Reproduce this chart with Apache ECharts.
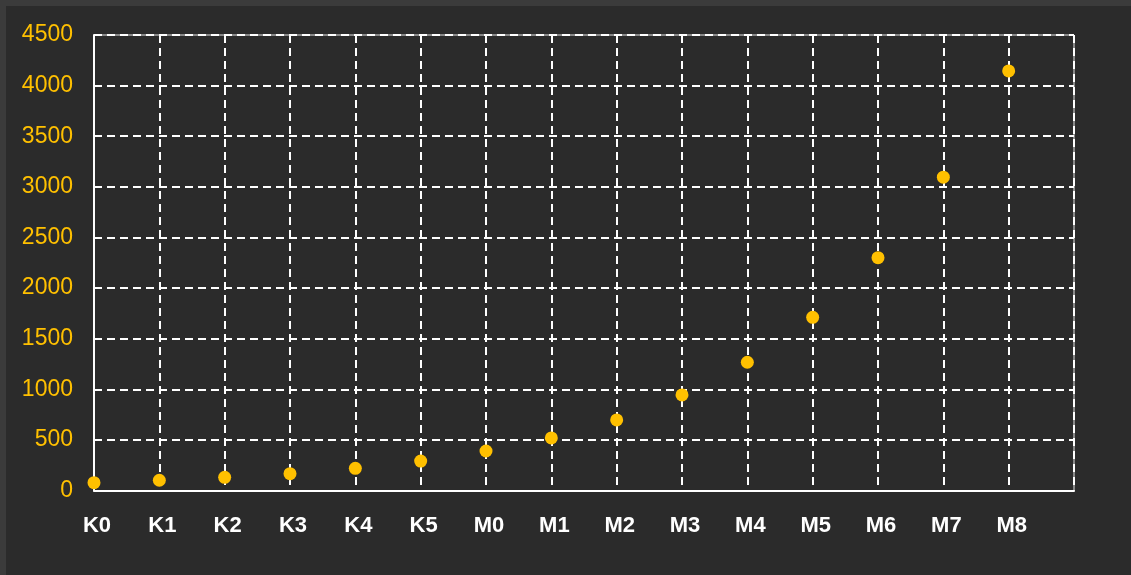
<!DOCTYPE html>
<html>
<head>
<meta charset="utf-8">
<script src="https://cdn.jsdelivr.net/npm/echarts@6/dist/echarts.min.js"></script>
<style>
  html, body { margin: 0; padding: 0; background: #3b3b3b; }
  #chart { position: absolute; left: 6px; top: 6px; width: 1125px; height: 569px; background: #2b2b2b; }
</style>
</head>
<body>
<div id="chart"></div>
<script>
// spectral classes (last slot left blank so the plot runs one step past M8)
const categories = ['K0', 'K1', 'K2', 'K3', 'K4', 'K5', 'M0', 'M1', 'M2', 'M3', 'M4', 'M5', 'M6', 'M7', 'M8', ''];
const values = [77, 101, 130, 166, 219, 291, 390, 519, 697, 944, 1267, 1711, 2300, 3095, 4145];
const yTicks = { min: 0, max: 4500, interval: 500 };

const myChart = echarts.init(document.getElementById('chart'));

const dashed = { color: '#ffffff', width: 2, type: [8, 5] };

const option = {
  animation: false,
  backgroundColor: '#2b2b2b',
  grid: {
    left: 88, top: 29, right: 57, bottom: 84.5,
    show: true, borderColor: '#e8e8e8', borderWidth: 1
  },
  xAxis: {
    type: 'category',
    data: categories,
    boundaryGap: false,
    axisLine: { show: true, lineStyle: { color: '#ffffff', width: 2 } },
    axisTick: { show: false },
    splitLine: { show: true, lineStyle: dashed },
    axisLabel: {
      interval: 0,
      color: '#ffffff',
      fontFamily: 'Liberation Sans',
      fontWeight: 'bold',
      fontSize: 22,
      margin: 24,
      padding: [0, 0, 0, 6]
    }
  },
  yAxis: {
    type: 'value',
    min: yTicks.min,
    max: yTicks.max,
    interval: yTicks.interval,
    axisLine: { show: true, lineStyle: { color: '#ffffff', width: 2 } },
    axisTick: { show: false },
    splitLine: { show: true, lineStyle: dashed },
    axisLabel: {
      color: '#ffc000',
      fontFamily: 'Liberation Sans',
      fontSize: 23,
      margin: 21,
      padding: [3, 0, 0, 0],
      formatter: (v) => String(v)
    }
  },
  series: [{
    type: 'scatter',
    data: values,
    symbol: 'circle',
    symbolSize: 13,
    z: 10,
    itemStyle: { color: '#ffc000', opacity: 1 }
  }]
};

myChart.setOption(option);
</script>
</body>
</html>
